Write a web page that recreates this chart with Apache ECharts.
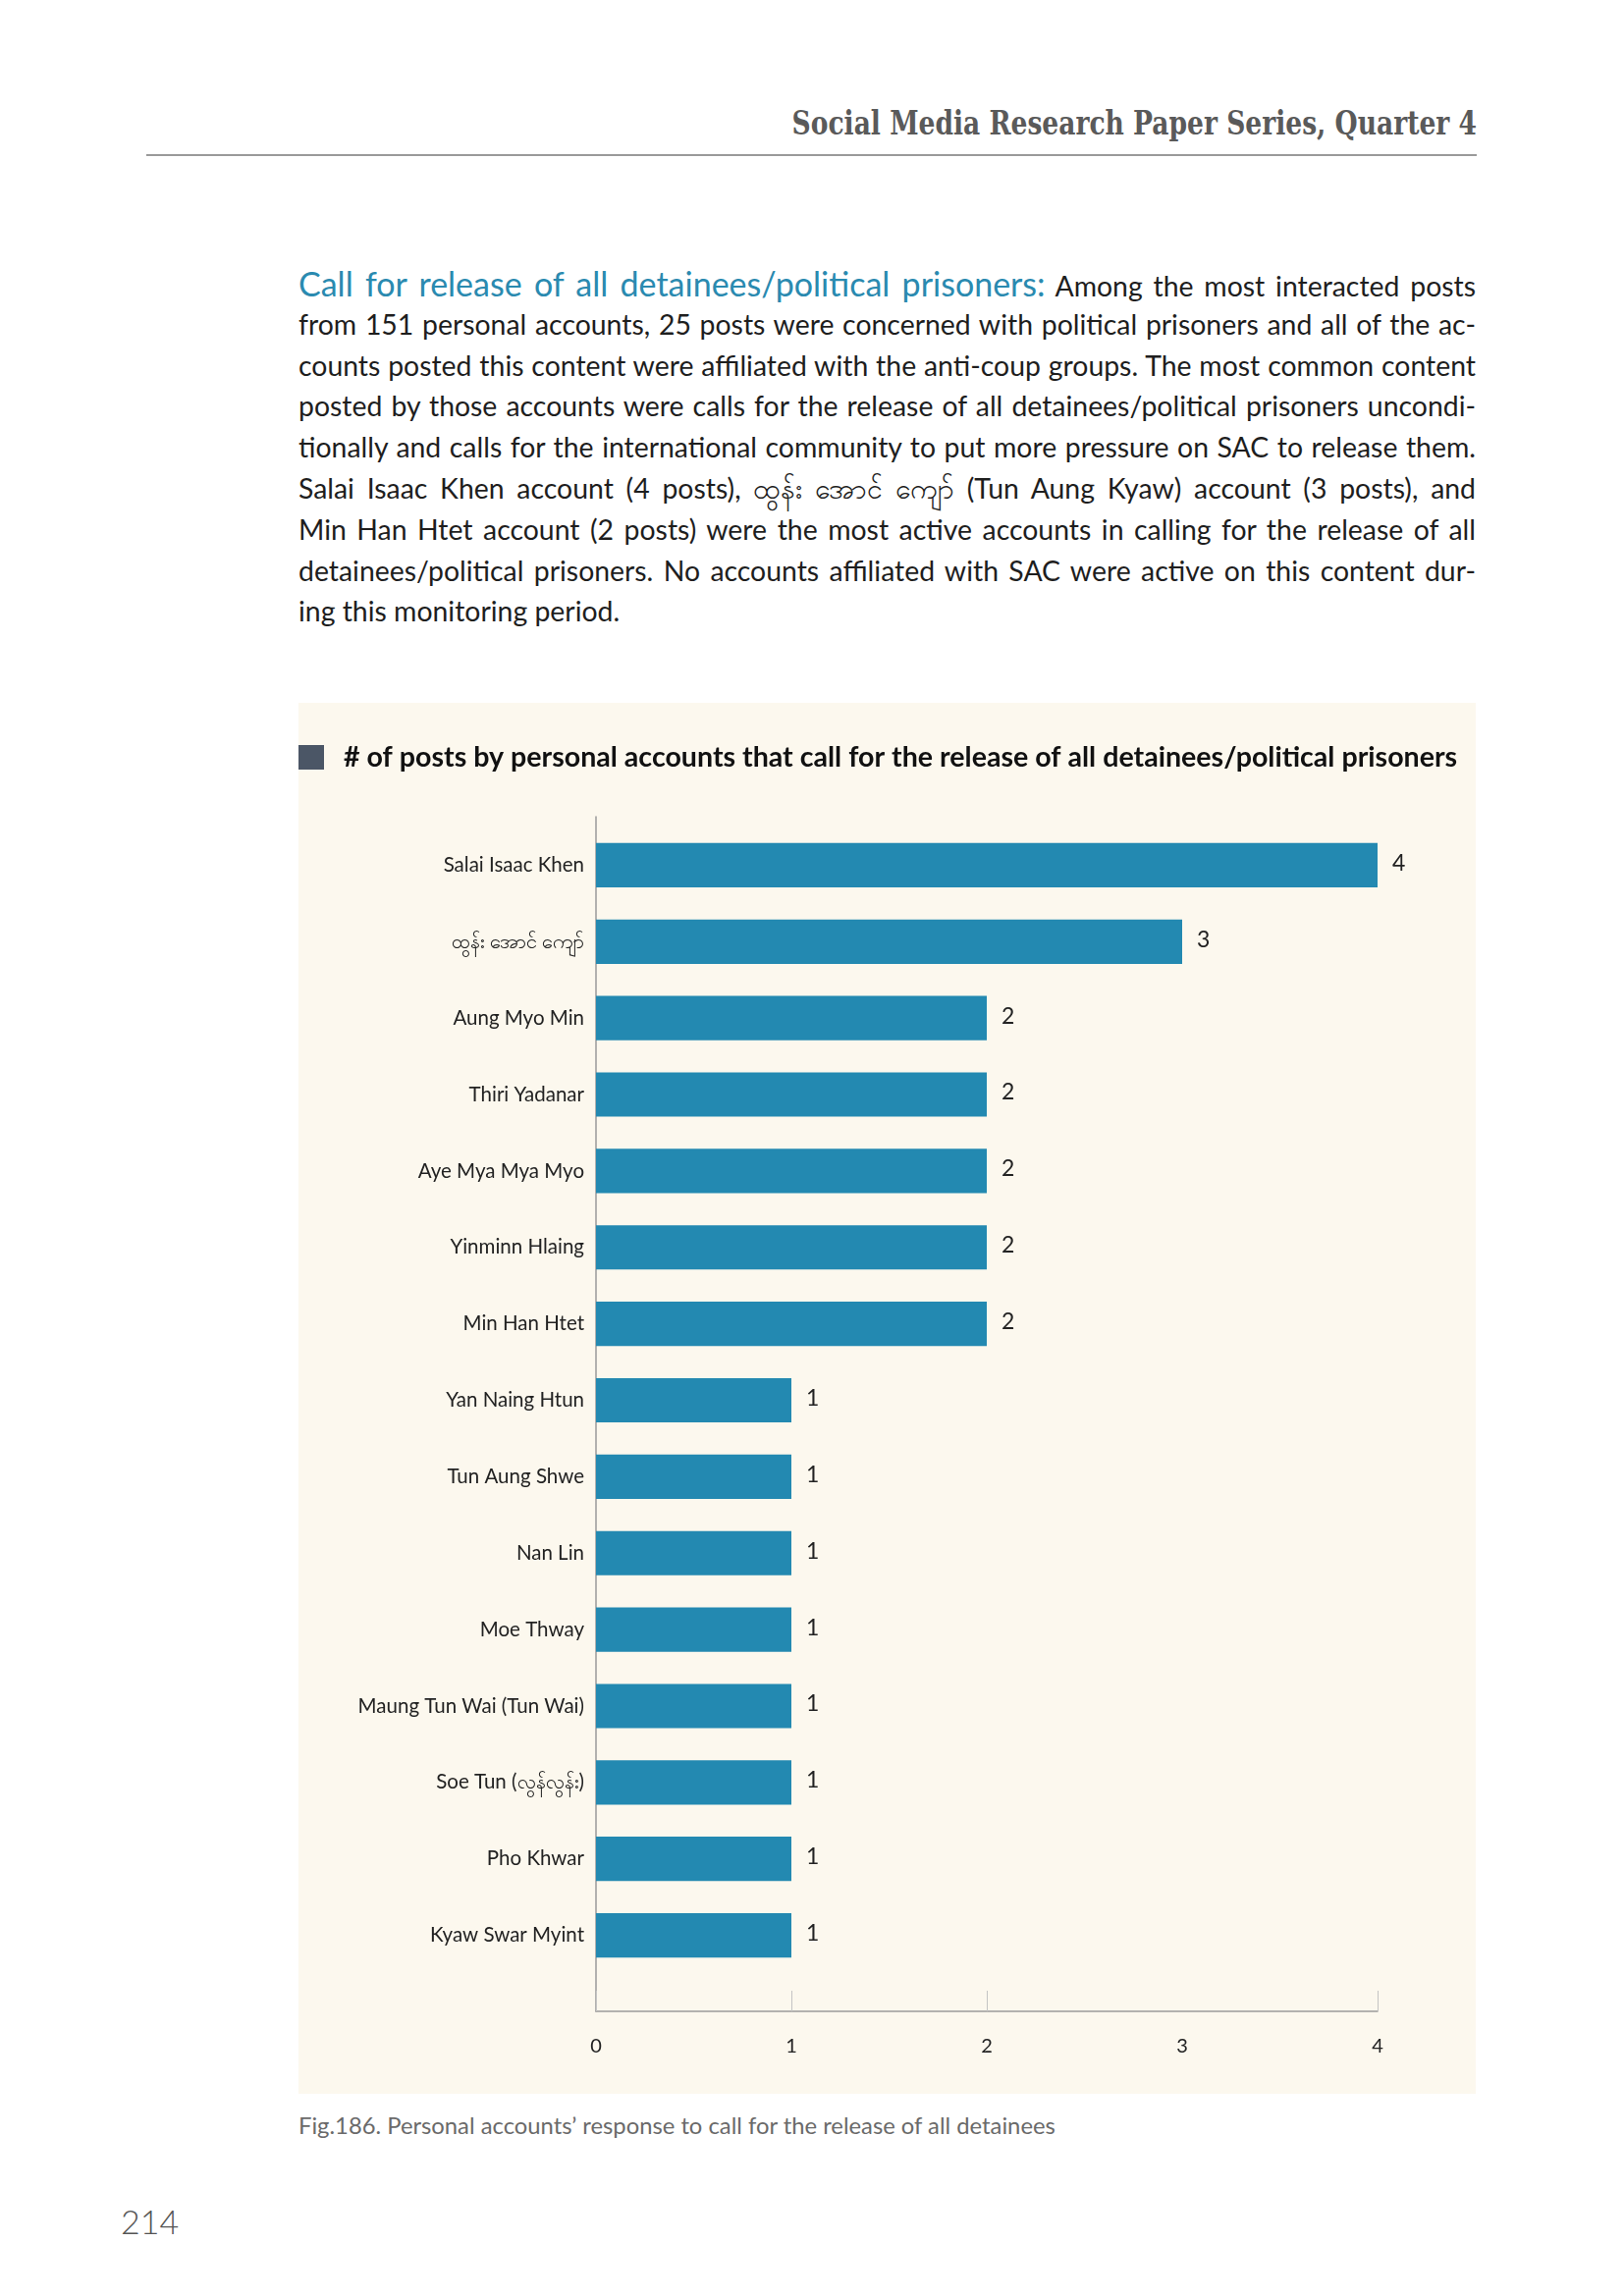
<!DOCTYPE html>
<html><head><meta charset="utf-8">
<script src="https://cdn.jsdelivr.net/npm/echarts@6/dist/echarts.min.js"></script>
<style>
html,body{margin:0;padding:0}
body{width:1654px;height:2339px;background:#fff;position:relative;font-family:Lato,"Noto Sans",sans-serif;overflow:hidden}
#hdr{position:absolute;right:150px;top:108px;font-family:"DejaVu Serif Condensed","DejaVu Serif",serif;font-weight:bold;font-size:29.5px;color:#5a5a5a;white-space:nowrap;transform:scaleY(1.12);transform-origin:right center}
#rule{position:absolute;left:149px;top:157px;width:1355px;height:2px;background:#9a9a9a}
#para{position:absolute;left:304px;top:268px;width:1199px;font-size:28.4px;line-height:41.8px;color:#1e1e1e}
#para .l{text-align:justify;text-align-last:justify;height:41.8px;overflow:visible}
#para .last{text-align:left;text-align-last:left}
#para .hd{color:#2a8ab0;font-size:34px}
#chart{position:absolute;left:304px;top:716px;width:1199px;height:1417px}
#cap{position:absolute;left:304px;top:2151px;font-size:23.8px;color:#6a6a6a;white-space:nowrap}
#pg{position:absolute;left:123px;top:2242px;font-size:34px;font-weight:300;color:#555}
</style></head>
<body>
<div id="hdr">Social Media Research Paper Series, Quarter 4</div>
<div id="rule"></div>
<div id="para">
<div class="l"><span class="hd">Call for release of all detainees/political prisoners:</span> Among the most interacted posts</div>
<div class="l">from 151 personal accounts, 25 posts were concerned with political prisoners and all of the ac-</div>
<div class="l">counts posted this content were affiliated with the anti-coup groups. The most common content</div>
<div class="l">posted by those accounts were calls for the release of all detainees/political prisoners uncondi-</div>
<div class="l">tionally and calls for the international community to put more pressure on SAC to release them.</div>
<div class="l">Salai Isaac Khen account (4 posts), ထွန်း အောင် ကျော် (Tun Aung Kyaw) account (3 posts), and</div>
<div class="l">Min Han Htet account (2 posts) were the most active accounts in calling for the release of all</div>
<div class="l">detainees/political prisoners. No accounts affiliated with SAC were active on this content dur-</div>
<div class="l last">ing this monitoring period.</div>
</div>
<div id="chart"></div>
<div id="cap">Fig.186. Personal accounts’ response to call for the release of all detainees</div>
<div id="pg">214</div>
<script>
const categories = ['Salai Isaac Khen','ထွန်း အောင် ကျော်','Aung Myo Min','Thiri Yadanar','Aye Mya Mya Myo','Yinminn Hlaing','Min Han Htet','Yan Naing Htun','Tun Aung Shwe','Nan Lin','Moe Thway','Maung Tun Wai (Tun Wai)','Soe Tun (လွန်လွန်း)','Pho Khwar','Kyaw Swar Myint'];
const postCounts = [4,3,2,2,2,2,2,1,1,1,1,1,1,1,1];
const xTickValues = [0,1,2,3,4];
const xTickMarks = [0,1,2,4];
const chartTitle = '# of posts by personal accounts that call for the release of all detainees/political prisoners';

const font = 'Lato, "Noto Sans", sans-serif';
const chart = echarts.init(document.getElementById('chart'), null, {renderer:'canvas'});
chart.setOption({
  backgroundColor:'#fcf8ee',
  animation:false,
  graphic:[
    {type:'rect', left:0, top:43, shape:{width:26,height:25}, style:{fill:'#4b5666'}},
    {type:'text', left:46, top:41, style:{text:chartTitle, fontFamily:font, fontWeight:'bold', fontSize:28.6, fill:'#111'}}
  ],
  grid:[
    {left:303, right:100, top:116, bottom:84},
    {left:303, right:100, top:126.5, bottom:122.5}
  ],
  xAxis:[
    {gridIndex:0, type:'value', min:0, max:4, interval:1,
     axisLine:{show:true, onZero:false, lineStyle:{color:'#9a9a9a', width:1.5}},
     axisTick:{show:true, inside:true, length:21, customValues:xTickMarks, lineStyle:{color:'#c4c4c4'}},
     axisLabel:{show:true, customValues:xTickValues, margin:26, fontSize:20, fontFamily:font, color:'#222'},
     splitLine:{show:false}},
    {gridIndex:1, type:'value', min:0, max:4, show:false}
  ],
  yAxis:[
    {gridIndex:0, type:'value', min:0, max:1,
     axisLine:{show:true, onZero:false, lineStyle:{color:'#9a9a9a', width:1.5}},
     axisTick:{show:false}, axisLabel:{show:false}, splitLine:{show:false}},
    {gridIndex:1, type:'category', inverse:true, data:categories,
     axisLine:{show:false}, axisTick:{show:false},
     axisLabel:{margin:12, fontSize:20.5, fontFamily:font, color:'#222'}}
  ],
  series:[{
    type:'bar', xAxisIndex:1, yAxisIndex:1, data:postCounts,
    barCategoryGap:'42%',
    itemStyle:{color:'#2389b1'},
    label:{show:true, position:'right', distance:15, fontSize:23, fontFamily:font, color:'#222', offset:[0,-2]}
  }]
});
</script>
</body></html>
